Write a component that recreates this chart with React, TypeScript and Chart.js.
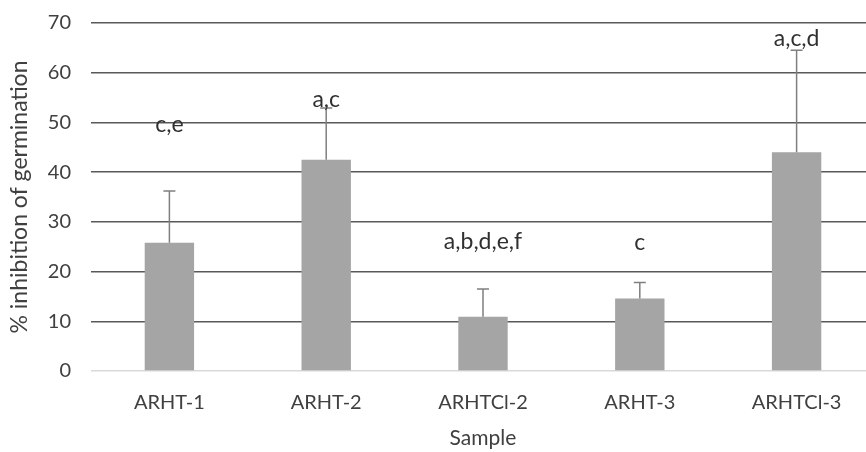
import React, { useEffect, useRef } from "react";
import { Chart, registerables } from "chart.js";

Chart.register(...registerables);

const categories = ["ARHT-1", "ARHT-2", "ARHTCl-2", "ARHT-3", "ARHTCl-3"];
const inhibition = [25.8, 42.5, 10.9, 14.6, 44.0];
const errorPlus = [10.4, 10.4, 5.6, 3.2, 20.5];
const letterLabels = ["c,e", "a,c", "a,b,d,e,f", "c", "a,c,d"];
const letterPositions = [49.6, 54.5, 26.0, 25.8, 66.9];

const FONT = "Lato, 'Open Sans', sans-serif";
const TEXT = "#404040";

const overlayPlugin = {
  id: "errorsAndLetters",
  afterDatasetsDraw(chart: any) {
    const ctx = chart.ctx;
    const meta = chart.getDatasetMeta(0);
    const y = chart.scales.y;
    ctx.save();
    meta.data.forEach((bar: any, i: number) => {
      const x = bar.x;
      const yTop = y.getPixelForValue(inhibition[i]);
      const yErr = y.getPixelForValue(inhibition[i] + errorPlus[i]);
      ctx.strokeStyle = "#7f7f7f";
      ctx.lineWidth = 1.5;
      ctx.beginPath();
      ctx.moveTo(x, yTop);
      ctx.lineTo(x, yErr);
      ctx.moveTo(x - 6, yErr);
      ctx.lineTo(x + 6, yErr);
      ctx.stroke();
    });
    ctx.fillStyle = "#303030";
    ctx.font = `23px ${FONT}`;
    ctx.textAlign = "center";
    ctx.textBaseline = "middle";
    meta.data.forEach((bar: any, i: number) => {
      ctx.fillText(letterLabels[i], bar.x, y.getPixelForValue(letterPositions[i]));
    });
    ctx.restore();
  },
};

export default function App() {
  const ref = useRef<HTMLCanvasElement>(null);
  useEffect(() => {
    if (!ref.current) return;
    const chart = new Chart(ref.current, {
      type: "bar",
      data: {
        labels: categories,
        datasets: [
          {
            data: inhibition,
            backgroundColor: "#a5a5a5",
            borderWidth: 0,
            barPercentage: 1,
            categoryPercentage: 0.315,
          },
        ],
      },
      options: {
        responsive: false,
        animation: false,
        layout: { padding: { top: 23, right: 1, left: 6, bottom: 0 } },
        plugins: { legend: { display: false }, tooltip: { enabled: false } },
        scales: {
          x: {
            afterFit: (s: any) => {
              s.height = 81;
            },
            grid: { display: false },
            border: { display: false },
            ticks: { color: TEXT, font: { family: FONT, size: 20 }, padding: 12 },
            title: {
              display: true,
              text: "Sample",
              color: TEXT,
              font: { family: FONT, size: 21 },
              padding: { top: 4, bottom: 1 },
            },
          },
          y: {
            afterFit: (s: any) => {
              s.width = 85;
              s.paddingTop = 0;
              s.paddingBottom = 0;
            },
            min: 0,
            max: 70,
            ticks: { stepSize: 10, color: TEXT, font: { family: FONT, size: 20 }, padding: 20 },
            grid: {
              drawTicks: false,
              lineWidth: 1.5,
              color: (c: any) => (c.tick && c.tick.value === 0 ? "#d9d9d9" : "#595959"),
            },
            border: { display: false },
            title: {
              display: true,
              text: "% inhibition of germination",
              color: TEXT,
              font: { family: FONT, size: 23 },
              padding: { top: 0, bottom: 2 },
            },
          },
        },
      },
      plugins: [overlayPlugin],
    });
    return () => chart.destroy();
  }, []);
  return (
    <div style={{ position: "absolute", left: 0, top: 0, width: 866, height: 452, overflow: "hidden", background: "#fff" }}>
      <canvas ref={ref} width={876} height={452} />
    </div>
  );
}
